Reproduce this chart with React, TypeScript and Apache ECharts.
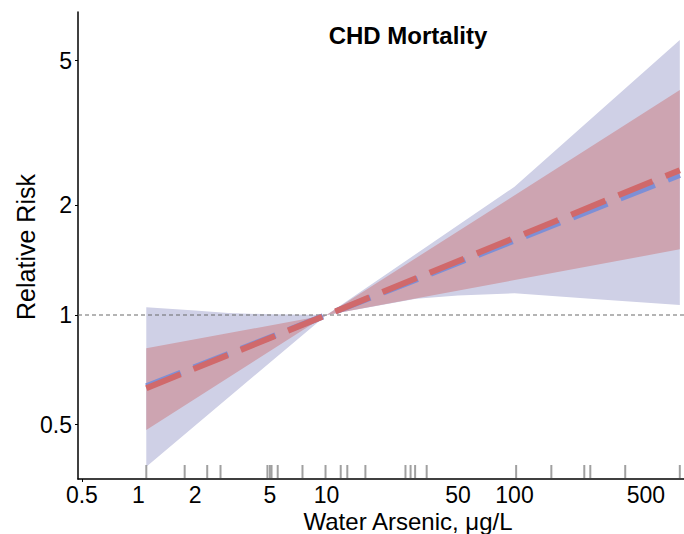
import React, { useEffect, useRef } from 'react';
import * as echarts from 'echarts';

// Axis ticks / ranges
const xTicks = [0.5, 1, 2, 5, 10, 50, 100, 500];
const yTicks = [0.5, 1, 2, 5];
const xRange = [0.4766, 797];
const yRange = [0.3543, 6.8];

// Blue (wide) confidence band
const blueUpperX = [1.1, 2, 3, 5, 10, 100, 757];
const blueUpperY = [1.05, 1.029, 1.013, 1.004, 1.0, 2.251, 5.696];
const blueLowerX = [1.1, 10, 20, 30, 50, 100, 300, 757];
const blueLowerY = [0.383, 1.0, 1.067, 1.108, 1.131, 1.147, 1.102, 1.065];

// Red (narrow) confidence band
const redUpperX = [1.1, 10, 757];
const redUpperY = [0.81, 1.0, 4.15];
const redLowerX = [1.1, 10, 757];
const redLowerY = [0.483, 1.0, 1.515];

// Central estimates
const blueLineX = [1.1, 10, 757];
const blueLineY = [0.6365, 1.0, 2.424];
const redLineX = [1.1, 10, 757];
const redLineY = [0.629, 1.0, 2.5];

// Rug of observed water arsenic values
const rugValues = [1.1, 1.76, 2.32, 2.73, 4.85, 5.0, 5.1, 5.5, 7.45, 9.88, 11.9, 12.9, 16.1, 26.3, 28, 29.6, 34.1, 102, 157, 235, 253, 388, 757];

const FONT = '"Liberation Sans", Arial, Helvetica, sans-serif';

const fmt = (v: number) => String(+Number(v).toPrecision(3));

function band(xu: number[], yu: number[], xl: number[], yl: number[], color: string, z: number) {
  return {
    type: 'custom',
    silent: true,
    z,
    clip: false,
    data: [[1, 1]],
    renderItem: (_params: any, api: any) => {
      const pts: number[][] = [];
      xu.forEach((x, i) => pts.push(api.coord([x, yu[i]])));
      for (let i = xl.length - 1; i >= 0; i--) pts.push(api.coord([xl[i], yl[i]]));
      return { type: 'polygon', shape: { points: pts }, style: { fill: color } };
    },
  };
}

export default function App() {
  const ref = useRef<HTMLDivElement>(null);
  useEffect(() => {
    const chart = echarts.init(ref.current!, undefined, { renderer: 'svg' });
    const option: any = {
      animation: false,
      backgroundColor: '#ffffff',
      textStyle: { fontFamily: FONT },
      grid: { left: 78, right: 0, top: 12, bottom: 55, containLabel: false },
      xAxis: {
        type: 'log',
        logBase: 10,
        min: xRange[0],
        max: xRange[1],
        axisLine: { show: true, onZero: false, lineStyle: { color: '#000', width: 1.5 } },
        axisTick: { show: true, customValues: [0.5], length: 3, lineStyle: { color: '#000', width: 1 } },
        axisLabel: { customValues: xTicks, formatter: fmt, fontSize: 23, lineHeight: 22, color: '#000', margin: 5, fontFamily: FONT },
        splitLine: { show: false },
        minorTick: { show: false },
      },
      yAxis: {
        type: 'log',
        logBase: 10,
        min: yRange[0],
        max: yRange[1],
        axisLine: { show: true, onZero: false, lineStyle: { color: '#000', width: 1.5 } },
        axisTick: { show: true, customValues: yTicks, length: 3, lineStyle: { color: '#000', width: 1 } },
        axisLabel: { customValues: yTicks, formatter: fmt, fontSize: 23, color: '#000', margin: 6, fontFamily: FONT },
        splitLine: { show: false },
        minorTick: { show: false },
      },
      graphic: [
        {
          type: 'text',
          x: 408,
          y: 35,
          style: { text: 'CHD Mortality', font: `bold 24px ${FONT}`, fill: '#000', textAlign: 'center', textVerticalAlign: 'middle' },
        },
        {
          type: 'text',
          x: 408,
          y: 521,
          style: { text: 'Water Arsenic, μg/L', font: `24px ${FONT}`, lineHeight: 22, fill: '#000', textAlign: 'center', textVerticalAlign: 'middle' },
        },
        {
          type: 'text',
          x: 26,
          y: 247,
          rotation: Math.PI / 2,
          style: { text: 'Relative Risk', font: `25px ${FONT}`, fill: '#000', textAlign: 'center', textVerticalAlign: 'middle' },
        },
      ],
      series: [
        band(blueUpperX, blueUpperY, blueLowerX, blueLowerY, '#cfd0e6', 1),
        band(redUpperX, redUpperY, redLowerX, redLowerY, '#cda4b1', 1),
        {
          type: 'line',
          silent: true,
          z: 3,
          symbol: 'none',
          data: [[xRange[0], 1], [xRange[1], 1]],
          lineStyle: { color: '#6a6a6a', width: 1.2, type: [4, 3] },
        },
        {
          type: 'custom',
          silent: true,
          z: 3,
          clip: false,
          data: rugValues.map((v) => [v, yRange[0]]),
          renderItem: (_params: any, api: any) => {
            const p = api.coord([api.value(0), api.value(1)]);
            return {
              type: 'line',
              shape: { x1: p[0], y1: p[1] - 1, x2: p[0], y2: p[1] - 14 },
              style: { stroke: '#a0a0a0', lineWidth: 2 },
            };
          },
        },
        {
          type: 'line',
          silent: true,
          z: 4,
          symbol: 'none',
          data: blueLineX.map((x, i) => [x, blueLineY[i]]),
          lineStyle: { color: '#7d8fd6', width: 6, type: [37, 14], cap: 'butt' },
        },
        {
          type: 'line',
          silent: true,
          z: 5,
          symbol: 'none',
          data: redLineX.map((x, i) => [x, redLineY[i]]),
          lineStyle: { color: '#d0696b', width: 6, type: [37, 14], cap: 'butt' },
        },
      ],
    };
    chart.setOption(option);
    return () => chart.dispose();
  }, []);
  return (
    <div
      ref={ref}
      style={{ position: 'fixed', left: 0, top: 0, width: 684, height: 534, background: '#fff' }}
    />
  );
}
